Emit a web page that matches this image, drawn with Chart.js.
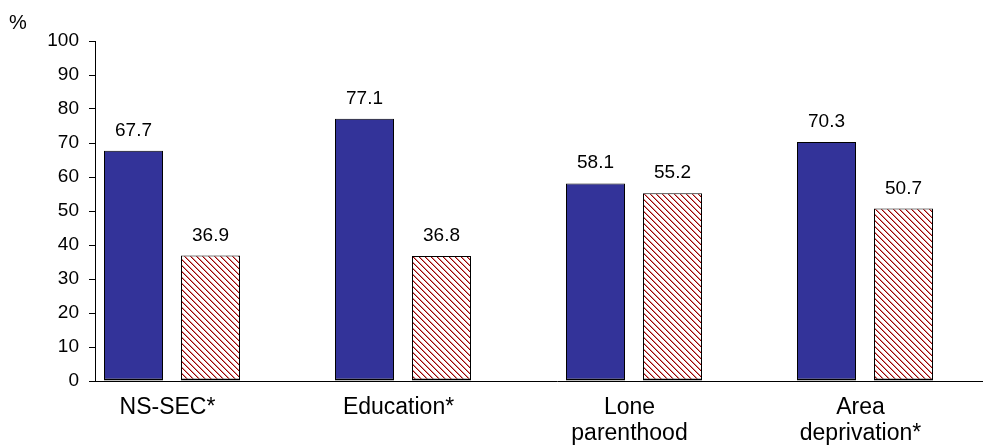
<!DOCTYPE html>
<html>
<head>
<meta charset="utf-8">
<script src="https://cdn.jsdelivr.net/npm/chart.js@4"></script>
<style>
  html, body { margin: 0; padding: 0; background: #fff; overflow: hidden; }
  #wrap { width: 1020px; height: 445px; }
</style>
</head>
<body>
<div id="wrap"><canvas id="chart1"></canvas></div>
<script>
const categories = [['NS-SEC*'], ['Education*'], ['Lone', 'parenthood'], ['Area', 'deprivation*']];
const seriesA = [67.7, 77.1, 58.1, 70.3];
const seriesB = [36.9, 36.8, 55.2, 50.7];
const yTicks = [0, 10, 20, 30, 40, 50, 60, 70, 80, 90, 100];

const FONT = '"Liberation Sans", Arial, sans-serif';

// diagonal red hatch like the old Excel pattern fill
function makeHatch() {
  const c = document.createElement('canvas');
  c.width = 6; c.height = 6;
  const g = c.getContext('2d');
  g.fillStyle = '#fff';
  g.fillRect(0, 0, 6, 6);
  for (let i = 0; i < 6; i++) {
    g.fillStyle = '#990000';
    g.fillRect(i, i, 1, 1);
    g.fillStyle = '#d68a8a';
    g.fillRect((i + 1) % 6, i, 1, 1);
  }
  return g.createPattern(c, 'repeat');
}

const valueLabels = {
  id: 'valueLabels',
  afterDatasetsDraw(chart) {
    const ctx = chart.ctx;
    ctx.save();
    ctx.font = '19px ' + FONT;
    ctx.fillStyle = '#000';
    ctx.textAlign = 'center';
    ctx.textBaseline = 'alphabetic';
    [0, 1].forEach(di => {
      const meta = chart.getDatasetMeta(di);
      meta.data.forEach((bar, i) => {
        const v = chart.data.datasets[di].data[i];
        if (v == null) return;
        ctx.fillText(v.toFixed(1), bar.x, bar.y - 15);
      });
    });
    ctx.font = '20px ' + FONT;
    ctx.textAlign = 'left';
    ctx.fillText('%', 9, 29);
    ctx.restore();
  }
};

const barBorder = { top: 1, left: 1, right: 1, bottom: 2 };

const ctx1 = document.getElementById('chart1').getContext('2d');

new Chart(ctx1, {
  type: 'bar',
  data: {
    labels: categories,
    datasets: [{
      label: 'Group A',
      data: seriesA,
      backgroundColor: '#333399',
      borderColor: '#000',
      borderWidth: barBorder,
      borderSkipped: false
    }, {
      label: 'Group B',
      data: seriesB,
      backgroundColor: makeHatch(),
      borderColor: '#000',
      borderWidth: barBorder,
      borderSkipped: false
    }, {
      label: '',
      data: [null, null, null, null]
    }]
  },
  plugins: [valueLabels],
  options: {
    responsive: true,
    maintainAspectRatio: false,
    animation: false,
    categoryPercentage: 1,
    barPercentage: 59 / 77,
    layout: { padding: { top: 41, right: 1, left: 0, bottom: 0 } },
    plugins: {
      legend: { display: false },
      tooltip: { enabled: false }
    },
    scales: {
      x: {
        grid: { display: false },
        border: { display: true, color: '#000', width: 1 },
        ticks: {
          color: '#000',
          font: { family: FONT, size: 23, lineHeight: 1.13 },
          padding: 6,
          labelOffset: -43,
          maxRotation: 0,
          autoSkip: false
        },
        afterFit: s => { s.height = 64; }
      },
      y: {
        min: 0,
        max: 100,
        afterBuildTicks: s => { s.ticks = yTicks.map(v => ({ value: v })); },
        grid: { drawOnChartArea: false, drawTicks: true, tickLength: 6, color: '#000' },
        border: { display: true, color: '#000', width: 1 },
        ticks: {
          color: '#000',
          font: { family: FONT, size: 19 },
          padding: 10
        },
        afterFit: s => { s.width = 95; }
      }
    }
  }
});
</script>
</body>
</html>
